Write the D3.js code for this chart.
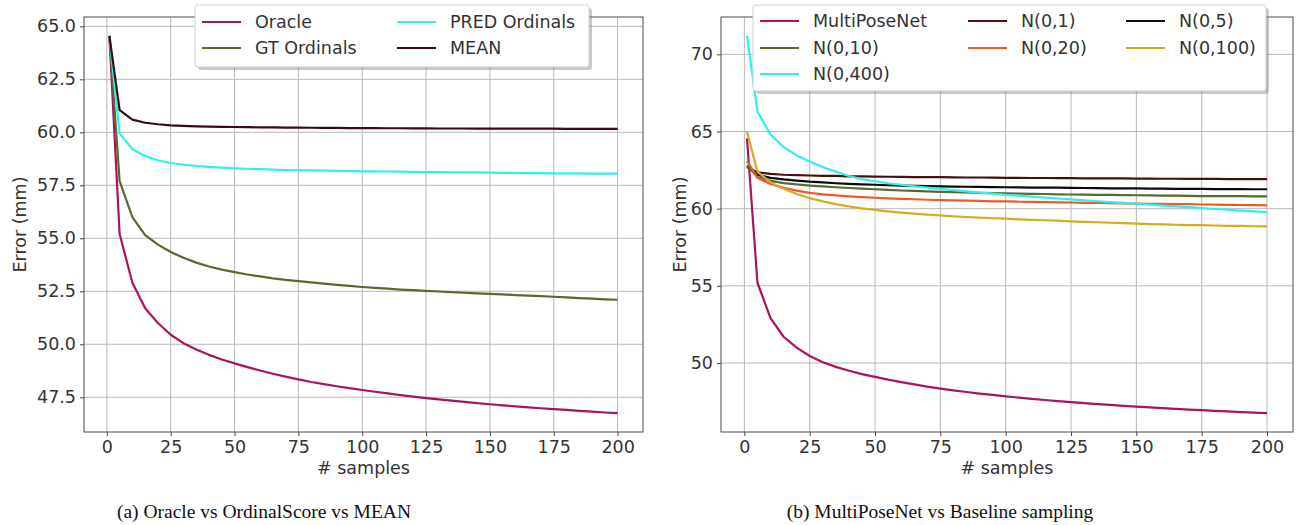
<!DOCTYPE html>
<html>
<head>
<meta charset="utf-8">
<script src="https://cdn.jsdelivr.net/npm/d3@7"></script>
<style>
  html, body { margin: 0; padding: 0; background: #fff; }
  svg { display: block; }
</style>
</head>
<body>
<svg id="chart" width="1298" height="525"></svg>
<script>
// ---------- DATA ----------
const samples = [1,5,10,15,20,25,30,35,40,45,50,55,60,65,70,75,80,85,90,95,100,105,110,115,120,125,130,135,140,145,150,155,160,165,170,175,180,185,190,195,200];
const xTicks = [0,25,50,75,100,125,150,175,200];

// Panel (a)
const oracle = [64.55,55.2,52.9,51.7,51.0,50.45,50.05,49.75,49.5,49.28,49.1,48.92,48.76,48.61,48.47,48.34,48.22,48.12,48.02,47.93,47.84,47.76,47.68,47.6,47.53,47.46,47.4,47.34,47.28,47.22,47.17,47.12,47.07,47.02,46.98,46.94,46.9,46.86,46.82,46.78,46.75];
const gtOrdinals = [64.55,57.7,56.0,55.15,54.7,54.35,54.08,53.85,53.67,53.52,53.4,53.29,53.2,53.11,53.04,52.98,52.92,52.86,52.8,52.75,52.7,52.66,52.62,52.58,52.55,52.52,52.49,52.46,52.43,52.4,52.38,52.35,52.32,52.29,52.27,52.24,52.21,52.18,52.15,52.12,52.1];
const predOrdinals = [64.55,59.95,59.2,58.88,58.68,58.55,58.47,58.41,58.37,58.33,58.3,58.28,58.26,58.24,58.22,58.21,58.2,58.19,58.18,58.17,58.16,58.155,58.15,58.14,58.13,58.125,58.12,58.115,58.11,58.105,58.1,58.09,58.08,58.075,58.07,58.065,58.06,58.06,58.055,58.05,58.05];
const meanErr = [64.55,61.05,60.6,60.45,60.38,60.33,60.3,60.28,60.27,60.26,60.25,60.24,60.235,60.23,60.225,60.22,60.215,60.21,60.205,60.2,60.2,60.195,60.19,60.19,60.185,60.185,60.18,60.18,60.18,60.175,60.175,60.175,60.17,60.17,60.17,60.17,60.165,60.165,60.165,60.16,60.16];

// Panel (b)
const multiPoseNet = oracle;
const n1 = [62.7,62.35,62.25,62.2,62.17,62.15,62.13,62.12,62.1,62.09,62.08,62.07,62.06,62.05,62.05,62.04,62.03,62.02,62.02,62.01,62.0,62.0,61.99,61.99,61.98,61.98,61.97,61.97,61.96,61.96,61.95,61.95,61.94,61.94,61.93,61.93,61.93,61.92,61.92,61.91,61.91];
const n5 = [62.75,62.2,62.0,61.9,61.82,61.75,61.7,61.65,61.61,61.58,61.55,61.52,61.5,61.48,61.46,61.45,61.43,61.42,61.41,61.4,61.39,61.38,61.37,61.36,61.36,61.35,61.34,61.33,61.32,61.32,61.31,61.3,61.3,61.29,61.28,61.28,61.27,61.27,61.27,61.26,61.26];
const n10 = [62.8,62.05,61.8,61.66,61.57,61.5,61.44,61.39,61.34,61.3,61.26,61.22,61.18,61.15,61.12,61.09,61.07,61.05,61.03,61.01,60.99,60.97,60.96,60.95,60.93,60.92,60.91,60.9,60.89,60.88,60.87,60.86,60.85,60.84,60.83,60.82,60.82,60.81,60.81,60.8,60.8];
const n20 = [63.1,62.0,61.6,61.36,61.17,61.03,60.93,60.86,60.8,60.75,60.71,60.67,60.64,60.61,60.58,60.56,60.54,60.52,60.5,60.48,60.47,60.45,60.44,60.42,60.41,60.4,60.38,60.37,60.36,60.35,60.33,60.32,60.31,60.3,60.29,60.27,60.26,60.25,60.24,60.23,60.22];
const n100 = [65.0,62.4,61.7,61.3,60.95,60.68,60.47,60.3,60.15,60.02,59.92,59.83,59.75,59.68,59.61,59.56,59.5,59.46,59.42,59.38,59.35,59.31,59.28,59.25,59.22,59.18,59.15,59.12,59.09,59.06,59.03,59.0,58.98,58.96,58.94,58.93,58.91,58.89,58.88,58.86,58.85];
const n400 = [71.2,66.3,64.8,64.0,63.45,63.05,62.7,62.4,62.12,61.92,61.78,61.65,61.55,61.45,61.36,61.28,61.2,61.12,61.04,60.97,60.9,60.84,60.78,60.72,60.66,60.6,60.54,60.48,60.43,60.38,60.32,60.26,60.2,60.15,60.1,60.04,59.98,59.93,59.88,59.83,59.78];

const yTicksA = [47.5,50.0,52.5,55.0,57.5,60.0,62.5,65.0];
const yTicksB = [50,55,60,65,70];

const seriesA = [
  {name: "Oracle", values: oracle, color: "#a8145f"},
  {name: "GT Ordinals", values: gtOrdinals, color: "#566b2f"},
  {name: "PRED Ordinals", values: predOrdinals, color: "#2ef0ee"},
  {name: "MEAN", values: meanErr, color: "#3a0b0e"}
];
const seriesB = [
  {name: "MultiPoseNet", values: multiPoseNet, color: "#a8145f"},
  {name: "N(0,1)", values: n1, color: "#4a0d10"},
  {name: "N(0,5)", values: n5, color: "#0a0a0a"},
  {name: "N(0,10)", values: n10, color: "#566b2f"},
  {name: "N(0,20)", values: n20, color: "#f05a28"},
  {name: "N(0,100)", values: n100, color: "#d8aa22"},
  {name: "N(0,400)", values: n400, color: "#2ef0ee"}
];

// ---------- DRAW ----------
const svg = d3.select("#chart");
const FONT = "'DejaVu Sans', sans-serif";
const FS = 17.5;

function drawPanel(cfg) {
  const g = svg.append("g");
  const all = cfg.series.flatMap(s => s.values);
  const ymin = d3.min(all), ymax = d3.max(all);
  const yr = ymax - ymin;
  const xmin = d3.min(samples), xmax = d3.max(samples), xr = xmax - xmin;
  const x = d3.scaleLinear().domain([xmin - 0.05 * xr, xmax + 0.05 * xr]).range([cfg.left, cfg.right]);
  const y = d3.scaleLinear().domain([ymin - 0.05 * yr, ymax + 0.05 * yr]).range([cfg.bottom, cfg.top]);

  // grid
  g.append("g").selectAll("line.gx").data(xTicks).join("line")
    .attr("x1", d => x(d)).attr("x2", d => x(d))
    .attr("y1", cfg.top).attr("y2", cfg.bottom)
    .attr("stroke", "#b8b8b8").attr("stroke-width", 1);
  g.append("g").selectAll("line.gy").data(cfg.yTicks).join("line")
    .attr("x1", cfg.left).attr("x2", cfg.right)
    .attr("y1", d => y(d)).attr("y2", d => y(d))
    .attr("stroke", "#b8b8b8").attr("stroke-width", 1);

  // axes
  const xAxis = d3.axisBottom(x).tickValues(xTicks).tickSize(4).tickPadding(5).tickFormat(d3.format("d"));
  const yAxis = d3.axisLeft(y).tickValues(cfg.yTicks).tickSize(4).tickPadding(4).tickFormat(d3.format(cfg.yFormat));
  const ax = g.append("g").attr("transform", `translate(0,${cfg.bottom})`).call(xAxis);
  const ay = g.append("g").attr("transform", `translate(${cfg.left},0)`).call(yAxis);
  [ax, ay].forEach(a => {
    a.select(".domain").remove();
    a.selectAll(".tick line").attr("stroke", "#444");
    a.selectAll(".tick text").attr("fill", "#333").style("font-family", FONT).style("font-size", FS + "px");
  });

  // lines
  const line = d3.line().x((d, i) => x(samples[i])).y(d => y(d));
  const clipId = "clip" + cfg.id;
  svg.append("clipPath").attr("id", clipId).append("rect")
    .attr("x", cfg.left).attr("y", cfg.top).attr("width", cfg.right - cfg.left).attr("height", cfg.bottom - cfg.top);
  g.append("g").attr("clip-path", `url(#${clipId})`).selectAll("path").data(cfg.series).join("path")
    .attr("d", s => line(s.values))
    .attr("fill", "none").attr("stroke", s => s.color).attr("stroke-width", 2.2)
    .attr("stroke-linejoin", "round");

  // frame
  g.append("rect").attr("x", cfg.left).attr("y", cfg.top)
    .attr("width", cfg.right - cfg.left).attr("height", cfg.bottom - cfg.top)
    .attr("fill", "none").attr("stroke", "#4a4a4a").attr("stroke-width", 1);

  // axis labels
  g.append("text").attr("x", (cfg.left + cfg.right) / 2).attr("y", 474)
    .attr("text-anchor", "middle").attr("fill", "#333")
    .style("font-family", FONT).style("font-size", FS + "px").text("# samples");
  g.append("text").attr("transform", `translate(${cfg.ylabelX},${(cfg.top + cfg.bottom) / 2}) rotate(-90)`)
    .attr("text-anchor", "middle").attr("fill", "#333")
    .style("font-family", FONT).style("font-size", FS + "px").text("Error (mm)");

  // legend
  const L = cfg.legend;
  const lg = svg.append("g");
  lg.append("rect").attr("x", L.x + 3).attr("y", L.y + 3).attr("width", L.w).attr("height", L.h)
    .attr("rx", 3).attr("fill", "#888").attr("opacity", 0.45);
  lg.append("rect").attr("x", L.x).attr("y", L.y).attr("width", L.w).attr("height", L.h)
    .attr("rx", 3).attr("fill", "#fff").attr("stroke", "#d0d0d0").attr("stroke-width", 1);
  cfg.series.forEach((s, i) => {
    const pos = L.order[i];
    const cx = L.cols[pos[0]], cy = L.rows[pos[1]];
    lg.append("line").attr("x1", cx).attr("x2", cx + L.lineLen).attr("y1", cy).attr("y2", cy)
      .attr("stroke", s.color).attr("stroke-width", 2.2);
    lg.append("text").attr("x", cx + L.lineLen + 14).attr("y", cy).attr("dy", "0.35em")
      .attr("fill", "#333").style("font-family", FONT).style("font-size", FS + "px").text(s.name);
  });

  // caption
  svg.append("text").attr("x", cfg.captionX).attr("y", 518).attr("text-anchor", "middle")
    .attr("fill", "#111").style("font-family", "'Liberation Serif', 'Times New Roman', serif")
    .style("font-size", "19.5px").text(cfg.caption);
}

drawPanel({
  id: "a", series: seriesA, yTicks: yTicksA, yFormat: ".1f",
  left: 84, right: 643, top: 17, bottom: 432, ylabelX: 26,
  caption: "(a) Oracle vs OrdinalScore vs MEAN", captionX: 264,
  legend: {x: 195, y: 5, w: 394, h: 62, lineLen: 39, cols: [202, 397], rows: [22, 48],
           order: [[0,0],[0,1],[1,0],[1,1]]}
});
drawPanel({
  id: "b", series: seriesB, yTicks: yTicksB, yFormat: "d",
  left: 721, right: 1293, top: 17, bottom: 432, ylabelX: 686,
  caption: "(b) MultiPoseNet vs Baseline sampling", captionX: 940,
  legend: {x: 753, y: 5, w: 513, h: 86, lineLen: 39, cols: [760, 968, 1126], rows: [21, 48, 74],
           order: [[0,0],[1,0],[2,0],[0,1],[1,1],[2,1],[0,2]]}
});
</script>
</body>
</html>
